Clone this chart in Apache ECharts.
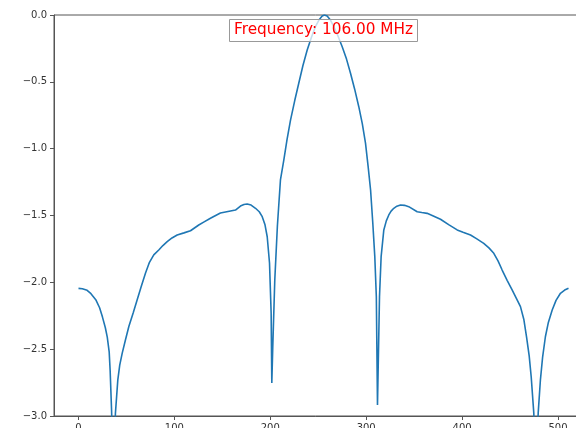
<!DOCTYPE html>
<html>
<head>
<meta charset="utf-8">
<script src="https://cdn.jsdelivr.net/npm/echarts@6/dist/echarts.min.js"></script>
<style>
  html, body { margin: 0; padding: 0; background: #ffffff; }
  #chart { width: 576px; height: 428px; }
</style>
</head>
<body>
<div id="chart"></div>
<script>
// Beam response (log10 magnitude) against sample index
const sampleIndex = [
  0, 4, 9, 13, 18, 22, 25, 28, 30, 32, 33, 34.5, 36.5, 38.5, 41, 43, 45.6, 49, 52.5, 57,
  61.2, 65.5, 69.9, 74, 78.5, 83.7, 88, 92.5, 97.5, 102.9, 110, 116.8, 125.4, 131, 137.6,
  148, 158.5, 163.7, 168.9, 172.5, 175.9, 180, 184.6, 188.5, 191.6, 194.5, 196.8, 199.2,
  200.9, 201.6, 202.6, 204.7, 207.4, 210.6, 214.1, 217.5, 221.1, 225.5, 229.7, 234,
  238.5, 243, 247.1, 251, 254.1, 256.5, 259.3, 262.5, 266.2, 270.5, 275, 279.5, 283.6,
  288, 292.3, 296, 299.3, 302, 304.6, 306.9, 309, 310.6, 311.8, 313.9, 315.6, 318.4, 321,
  323.6, 326, 328.8, 332, 335.8, 340, 344.4, 353.2, 358, 363.6, 370, 377.5, 386, 394.9,
  401, 408.8, 415, 422.6, 428, 433.1, 437.5, 441.8, 447, 452.2, 456.5, 460.9, 464.5,
  467.2, 470, 472.1, 474.8, 477.1, 479.4, 481.7, 484, 486.9, 490, 494, 498, 502.6, 507,
  511
];
const logMagnitude = [
  -2.045, -2.048, -2.06, -2.085, -2.13, -2.19, -2.26, -2.34, -2.41, -2.52, -2.66, -2.96,
  -3.5, -2.98, -2.73, -2.62, -2.53, -2.43, -2.33, -2.23, -2.13, -2.03, -1.93, -1.85,
  -1.795, -1.758, -1.725, -1.696, -1.668, -1.646, -1.63, -1.614, -1.571, -1.548, -1.521,
  -1.481, -1.466, -1.459, -1.429, -1.418, -1.414, -1.422, -1.446, -1.472, -1.509,
  -1.57, -1.659, -1.855, -2.229, -2.753, -2.481, -1.982, -1.58, -1.234, -1.085,
  -0.93, -0.786, -0.64, -0.511, -0.38, -0.262, -0.165, -0.0875, -0.035, -0.0075, 0,
  -0.0075, -0.035, -0.0875, -0.155, -0.237, -0.33, -0.434, -0.555, -0.686, -0.815,
  -0.958, -1.13, -1.309, -1.556, -1.808, -2.108, -2.918, -2.108, -1.808, -1.608, -1.54,
  -1.496, -1.467, -1.446, -1.43, -1.421, -1.424, -1.434, -1.472, -1.478, -1.484,
  -1.503, -1.528, -1.568, -1.608, -1.625, -1.646, -1.673, -1.708, -1.742, -1.783,
  -1.84, -1.908, -1.985, -2.057, -2.118, -2.182, -2.28, -2.407, -2.55, -2.706, -2.977,
  -3.5, -2.977, -2.731, -2.56, -2.407, -2.3, -2.207, -2.135, -2.082, -2.058, -2.045
];
const xTickValues = [0, 100, 200, 300, 400, 500];
const yTickValues = [0, -0.5, -1, -1.5, -2, -2.5, -3];
const annotationText = 'Frequency: 106.00 MHz';

const points = sampleIndex.map((x, i) => [x, logMagnitude[i]]);
const fmt = v => (v < 0 ? '\u2212' : '') + Math.abs(v).toFixed(1);
const axisColor = '#555';
const labelStyle = { color: '#333', fontSize: 10, fontFamily: 'DejaVu Sans' };

const chart = echarts.init(document.getElementById('chart'), null, { renderer: 'canvas' });
chart.setOption({
  animation: false,
  backgroundColor: '#ffffff',
  title: {
    text: annotationText,
    left: 229,
    top: 19,
    padding: [4, 5, 4, 5],
    backgroundColor: 'rgba(255,255,255,0.75)',
    borderColor: '#999',
    borderWidth: 1,
    textStyle: { color: '#ff0000', fontSize: 15.3, fontWeight: 'normal', fontFamily: 'DejaVu Sans' }
  },
  grid: {
    left: 54, top: 15, width: 539, height: 401,
    outerBoundsMode: 'none',
    containLabel: false,
    show: true, borderColor: axisColor, borderWidth: 1, backgroundColor: 'transparent'
  },
  xAxis: {
    type: 'value',
    min: -25.55,
    max: 536.55,
    splitLine: { show: false },
    axisLine: { show: true, onZero: false, lineStyle: { color: axisColor, width: 1 } },
    axisTick: { show: true, length: 4, customValues: xTickValues, lineStyle: { color: axisColor } },
    axisLabel: Object.assign({ margin: 7, customValues: xTickValues, formatter: v => String(v) }, labelStyle)
  },
  yAxis: {
    type: 'value',
    min: -3,
    max: 0,
    splitLine: { show: false },
    axisLine: { show: true, onZero: false, lineStyle: { color: axisColor, width: 1 } },
    axisTick: { show: true, length: 4, customValues: yTickValues, lineStyle: { color: axisColor } },
    axisLabel: Object.assign({ margin: 7, customValues: yTickValues, formatter: fmt }, labelStyle)
  },
  series: [{
    type: 'line',
    data: points,
    showSymbol: false,
    smooth: false,
    clip: true,
    lineStyle: { color: '#1f77b4', width: 1.6 }
  }]
});
</script>
</body>
</html>
